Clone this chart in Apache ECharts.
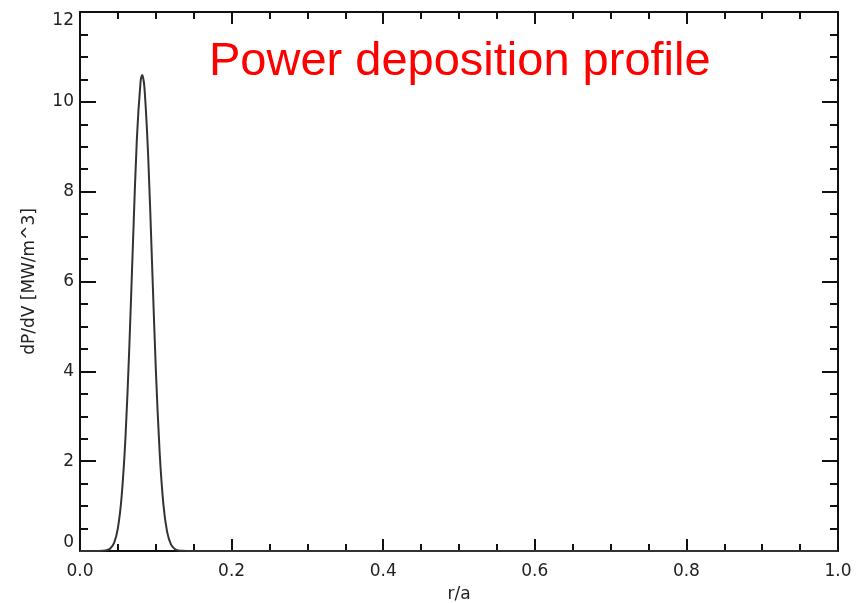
<!DOCTYPE html>
<html><head><meta charset="utf-8">
<script src="https://cdn.jsdelivr.net/npm/echarts@6/dist/echarts.min.js"></script>
<style>html,body{margin:0;padding:0;background:#fff}#c{width:856px;height:603px}</style>
</head><body><div id="c"></div>
<script>
const rA = [0.000,0.020,0.025,0.030,0.035,0.040,0.045,0.050,0.055,0.060,0.065,0.070,0.075,0.080,0.082,0.085,0.090,0.095,0.100,0.105,0.110,0.115,0.120,0.125,0.130,0.135,0.140,0.200,0.400,0.600,0.800,1.000];
const dPdV = [0.000,0.000,0.001,0.004,0.015,0.057,0.18,0.51,1.23,2.53,4.51,6.92,9.17,10.47,10.6,10.32,8.77,6.43,4.06,2.22,1.04,0.42,0.148,0.045,0.012,0.003,0.000,0.000,0.000,0.000,0.000,0.000];
const xTicks = [0.0,0.2,0.4,0.6,0.8,1.0];
const yTicks = [0,2,4,6,8,10,12];
const titleText = 'Power deposition profile';
const xName = 'r/a';
const yName = 'dP/dV [MW/m^3]';

const font = 'DejaVu Sans, sans-serif';
const tfont = 'Liberation Sans, Arial, sans-serif';
const axLine = {show:true, onZero:false, lineStyle:{color:'#111', width:2}};
const xTick = {show:true, inside:true, length:12, lineStyle:{color:'#111', width:2}};
const xMinor = {show:true, splitNumber:4, length:7, lineStyle:{color:'#111', width:2}};
const yTick = {show:true, inside:true, length:16, lineStyle:{color:'#111', width:2}};
const yMinor = {show:true, splitNumber:4, length:8, lineStyle:{color:'#111', width:2}};
const chart = echarts.init(document.getElementById('c'));
chart.setOption({
  animation:false,
  backgroundColor:'#fff',
  title:{text:titleText, left:204, top:34, textStyle:{color:'#ff0000', fontSize:47, fontWeight:'normal', fontFamily:tfont}},
  grid:{left:80, right:18, top:12, bottom:52, containLabel:false, outerBoundsMode:'none'},
  xAxis:[{
    type:'value', min:0, max:1, interval:0.2,
    name:xName, nameLocation:'middle', nameGap:35,
    nameTextStyle:{color:'#222', fontSize:17, fontFamily:font},
    axisLine:axLine, axisTick:xTick, minorTick:xMinor,
    splitLine:{show:false},
    axisLabel:{color:'#222', fontSize:17, fontFamily:font, margin:12, formatter:v=>v.toFixed(1)}
  },{
    type:'value', min:0, max:1, interval:0.2, position:'top',
    axisLine:axLine, axisTick:xTick, minorTick:xMinor,
    splitLine:{show:false}, axisLabel:{show:false}
  }],
  yAxis:[{
    type:'value', min:0, max:12, interval:2,
    name:yName, nameLocation:'middle', nameGap:42, nameRotate:90,
    nameTextStyle:{color:'#222', fontSize:17, fontFamily:font},
    axisLine:axLine, axisTick:yTick, minorTick:yMinor,
    splitLine:{show:false},
    axisLabel:{color:'#222', fontSize:17, fontFamily:font, margin:6, verticalAlignMinLabel:'bottom', verticalAlignMaxLabel:'top'}
  },{
    type:'value', min:0, max:12, interval:2, position:'right',
    axisLine:axLine, axisTick:yTick, minorTick:yMinor,
    splitLine:{show:false}, axisLabel:{show:false}
  }],
  series:[{
    type:'line', data:rA.map((x,i)=>[x,dPdV[i]]), smooth:0.3, showSymbol:false,
    lineStyle:{color:'#333', width:2}, clip:true
  }]
});
</script></body></html>
